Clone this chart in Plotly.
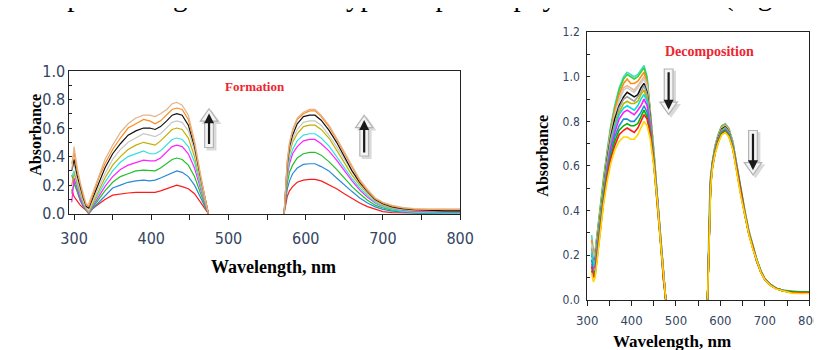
import plotly.graph_objects as go

W, H = 822, 350

# ---------------- Formation panel (left) ----------------
F_WL_UV = [297, 300, 304, 308, 312, 316, 319, 325, 332, 340, 350, 360, 370, 380, 390,
           398, 405, 412, 420, 427, 433, 440, 448, 456, 464, 470, 474]
F_WL_VIS = [572, 574, 576, 579, 583, 589, 597, 605, 612, 620, 630, 640, 650, 660, 670,
            680, 690, 700, 712, 725, 740, 760, 780, 800]

F_NAMES = ["red", "blue", "green", "magenta", "cyan", "olive", "gray", "black", "orange", "tan"]
F_COLORS = ["#ff1a1a", "#2a8ad4", "#22c02a", "#ff22ff", "#33e0e0", "#c0b000",
            "#c8c8c8", "#111111", "#ff8a1a", "#e2b48c"]

F_UV = {
    "red":     [.17, .12, .09, .06, .04, .02, .01, .04, .07, .10, .13, .14, .145, .15, .15, .145, .15, .16, .175, .19, .20, .19, .175, .14, .08, .03, 0.0],
    "blue":    [.27, .22, .15, .09, .05, .02, 0.0, .04, .08, .13, .18, .20, .22, .23, .235, .23, .235, .25, .27, .29, .30, .29, .26, .20, .11, .04, 0.0],
    "green":   [.14, .21, .16, .10, .06, .02, 0.0, .05, .10, .16, .22, .26, .28, .30, .305, .30, .30, .32, .35, .38, .39, .38, .34, .26, .14, .05, 0.0],
    "magenta": [.08, .25, .18, .11, .06, .02, 0.0, .06, .12, .19, .26, .31, .34, .36, .375, .37, .37, .39, .43, .47, .48, .47, .42, .32, .17, .06, 0.0],
    "cyan":    [.26, .30, .20, .13, .07, .03, .01, .07, .14, .22, .30, .36, .40, .42, .44, .42, .42, .44, .48, .52, .53, .52, .47, .36, .19, .07, 0.0],
    "olive":   [.20, .28, .22, .14, .08, .03, .01, .08, .16, .25, .34, .40, .45, .48, .50, .49, .48, .51, .55, .59, .60, .59, .53, .40, .21, .08, 0.0],
    "gray":    [.30, .35, .24, .16, .09, .04, .02, .10, .19, .28, .38, .45, .50, .53, .56, .55, .54, .56, .60, .64, .65, .64, .58, .44, .23, .08, 0.0],
    "black":   [.30, .38, .27, .18, .11, .05, .04, .12, .22, .32, .42, .49, .55, .58, .60, .60, .59, .61, .65, .69, .70, .69, .62, .47, .25, .09, 0.0],
    "orange":  [.35, .43, .30, .20, .12, .06, .05, .14, .25, .35, .45, .53, .60, .63, .66, .65, .63, .65, .69, .73, .74, .73, .66, .49, .26, .09, 0.0],
    "tan":     [.30, .47, .33, .22, .14, .06, .07, .16, .27, .38, .48, .57, .63, .67, .69, .69, .68, .70, .73, .77, .78, .76, .69, .51, .27, .09, 0.0],
}
F_VIS = {
    "red":     [0, .06, .12, .16, .19, .22, .235, .24, .24, .23, .205, .175, .14, .105, .075, .05, .03, .015, .008, .005, .004, .003, .003, .003],
    "blue":    [0, .09, .17, .23, .28, .32, .345, .35, .35, .33, .30, .25, .20, .155, .11, .075, .048, .03, .018, .01, .006, .003, .002, .002],
    "green":   [0, .11, .21, .29, .34, .39, .42, .43, .43, .41, .365, .31, .25, .19, .14, .095, .06, .04, .025, .018, .013, .01, .01, .01],
    "magenta": [0, .13, .26, .35, .42, .47, .51, .52, .52, .49, .44, .375, .30, .23, .165, .115, .075, .05, .033, .022, .016, .013, .013, .013],
    "cyan":    [0, .14, .28, .38, .45, .51, .55, .56, .56, .53, .475, .40, .325, .245, .18, .125, .08, .05, .03, .018, .01, .005, .003, .003],
    "olive":   [0, .15, .31, .42, .50, .56, .61, .62, .62, .59, .53, .445, .36, .27, .20, .14, .09, .06, .04, .03, .022, .02, .02, .02],
    "gray":    [0, .16, .32, .44, .52, .59, .64, .65, .65, .62, .55, .47, .38, .29, .21, .145, .095, .065, .045, .033, .027, .025, .025, .025],
    "black":   [0, .17, .34, .47, .55, .63, .68, .69, .69, .655, .585, .50, .40, .30, .22, .155, .10, .07, .048, .035, .028, .022, .02, .02],
    "orange":  [0, .18, .36, .49, .58, .66, .70, .72, .72, .68, .61, .52, .42, .32, .23, .16, .105, .075, .052, .04, .032, .03, .03, .03],
    "tan":     [0, .18, .37, .50, .59, .67, .71, .73, .73, .69, .62, .53, .43, .33, .24, .17, .11, .08, .058, .045, .035, .032, .032, .032],
}

# ---------------- Decomposition panel (right) ----------------
D_WL_UV = [310, 314, 318, 324, 330, 337, 345, 353, 362, 372, 382, 390, 398, 406, 414,
           421, 428, 435, 442, 450, 458, 466, 472, 477]
D_WL_VIS = [571, 573, 575, 578, 582, 588, 595, 603, 611, 619, 628, 637, 646, 655, 664,
            673, 682, 691, 700, 712, 726, 742, 760, 780, 800]

D_NAMES = ["turquoise", "lime", "orange", "tan", "silver", "black", "gray", "olive",
           "cyan", "magenta", "blue", "green", "red", "yellow"]
D_COLORS = ["#48d8cc", "#33d633", "#ff8c1a", "#e6b88e", "#cfcfcf", "#111111", "#9e9e9e",
            "#b8b800", "#00dede", "#ff1aff", "#1f8fd0", "#00b400", "#ff1a1a", "#ffd700"]

D_UV = {
    "turquoise": [.29, .22, .22, .32, .43, .55, .67, .78, .87, .95, 1.00, 1.02, 1.01, 1.00, 1.01, 1.03, 1.05, 1.00, .86, .67, .46, .25, .10, 0],
    "lime":      [.24, .21, .21, .32, .43, .55, .66, .77, .86, .94, .99, 1.01, 1.00, .99, 1.00, 1.02, 1.04, .99, .85, .67, .46, .25, .10, 0],
    "orange":    [.27, .20, .21, .31, .42, .54, .65, .76, .85, .92, .97, .99, .97, .97, .98, 1.00, 1.02, .97, .84, .66, .46, .25, .10, 0],
    "tan":       [.22, .19, .20, .30, .41, .53, .64, .75, .83, .90, .95, .96, .95, .94, .96, .98, 1.00, .96, .83, .66, .46, .25, .10, 0],
    "silver":    [.25, .19, .19, .29, .40, .52, .64, .74, .82, .89, .94, .95, .94, .93, .95, .97, .99, .95, .83, .65, .45, .25, .10, 0],
    "black":     [.20, .18, .18, .28, .40, .51, .63, .73, .81, .87, .91, .93, .92, .91, .92, .95, .97, .93, .82, .65, .45, .25, .10, 0],
    "gray":      [.23, .17, .17, .27, .39, .50, .62, .72, .79, .86, .90, .91, .90, .89, .91, .93, .96, .92, .81, .64, .45, .25, .10, 0],
    "olive":     [.18, .16, .17, .27, .38, .50, .61, .70, .78, .84, .88, .89, .88, .88, .89, .92, .94, .90, .80, .64, .45, .25, .10, 0],
    "cyan":      [.21, .15, .16, .26, .37, .49, .60, .69, .77, .83, .86, .87, .86, .85, .87, .90, .92, .89, .79, .63, .45, .25, .10, 0],
    "magenta":   [.16, .14, .15, .25, .36, .48, .59, .68, .75, .81, .84, .85, .84, .83, .85, .87, .90, .87, .78, .63, .45, .25, .09, 0],
    "blue":      [.18, .12, .13, .23, .35, .46, .57, .66, .73, .78, .81, .81, .80, .80, .82, .84, .87, .84, .76, .62, .45, .24, .09, 0],
    "green":     [.13, .11, .12, .22, .34, .45, .56, .64, .71, .76, .78, .79, .78, .78, .79, .82, .85, .82, .75, .61, .44, .24, .09, 0],
    "red":       [.15, .10, .11, .21, .33, .44, .55, .63, .69, .74, .76, .77, .76, .75, .77, .80, .83, .81, .74, .61, .44, .24, .09, 0],
    "yellow":    [.12, .08, .10, .20, .32, .43, .53, .61, .67, .71, .73, .73, .72, .72, .74, .77, .80, .78, .72, .60, .44, .24, .09, 0],
}
D_VIS = {
    "turquoise": [0, .20, .42, .55, .62, .69, .74, .78, .79, .77, .71, .60, .49, .40, .31, .24, .18, .13, .095, .07, .052, .042, .037, .035, .035],
    "lime":      [0, .19, .41, .55, .62, .69, .74, .78, .785, .765, .705, .60, .49, .40, .31, .24, .18, .13, .095, .07, .052, .042, .038, .036, .036],
    "orange":    [0, .19, .41, .54, .615, .685, .735, .775, .785, .765, .705, .595, .485, .395, .31, .24, .18, .13, .095, .07, .05, .04, .035, .033, .033],
    "tan":       [0, .18, .40, .54, .61, .68, .73, .77, .78, .76, .70, .595, .485, .395, .305, .235, .175, .128, .094, .07, .051, .041, .036, .035, .035],
    "silver":    [0, .18, .40, .54, .61, .68, .73, .77, .778, .758, .70, .59, .48, .39, .305, .235, .175, .128, .094, .069, .05, .04, .035, .034, .034],
    "black":     [0, .17, .39, .53, .61, .675, .725, .765, .775, .755, .695, .59, .48, .39, .30, .235, .175, .127, .093, .069, .05, .041, .036, .034, .034],
    "gray":      [0, .17, .39, .53, .605, .675, .72, .76, .772, .752, .695, .585, .48, .39, .30, .234, .175, .127, .093, .068, .05, .04, .035, .033, .033],
    "olive":     [0, .16, .38, .53, .60, .67, .72, .76, .769, .75, .69, .585, .475, .39, .30, .233, .175, .126, .092, .068, .05, .04, .034, .032, .032],
    "cyan":      [0, .16, .38, .52, .60, .67, .715, .755, .766, .747, .69, .58, .475, .385, .30, .232, .174, .126, .092, .068, .05, .041, .037, .036, .036],
    "magenta":   [0, .15, .37, .52, .60, .665, .715, .753, .763, .744, .685, .58, .473, .385, .30, .232, .174, .126, .092, .067, .05, .04, .035, .034, .034],
    "blue":      [0, .15, .37, .52, .595, .665, .71, .75, .76, .74, .683, .577, .47, .385, .298, .231, .173, .125, .091, .067, .05, .04, .034, .032, .032],
    "green":     [0, .14, .36, .51, .594, .66, .71, .747, .757, .737, .68, .575, .47, .383, .297, .23, .172, .125, .091, .067, .05, .04, .036, .035, .035],
    "red":       [0, .14, .36, .51, .59, .657, .705, .742, .752, .733, .676, .571, .466, .38, .295, .228, .171, .124, .09, .066, .049, .039, .033, .031, .031],
    "yellow":    [0, .13, .35, .50, .59, .655, .702, .74, .75, .73, .674, .569, .465, .38, .294, .228, .17, .123, .09, .066, .048, .038, .03, .028, .028],
}

X_TICKS = [300, 350, 400, 450, 500, 550, 600, 650, 700, 750, 800]
X_TICKTEXT = ["300", "", "400", "", "500", "", "600", "", "700", "", "800"]
Y1_TICKS = [0.0, 0.1, 0.2, 0.3, 0.4, 0.5, 0.6, 0.7, 0.8, 0.9, 1.0]
Y1_TICKTEXT = ["0.0", "", "0.2", "", "0.4", "", "0.6", "", "0.8", "", "1.0"]
Y2_TICKS = [0.0, 0.1, 0.2, 0.3, 0.4, 0.5, 0.6, 0.7, 0.8, 0.9, 1.0, 1.1, 1.2]
Y2_TICKTEXT = ["0.0", "", "0.2", "", "0.4", "", "0.6", "", "0.8", "", "1.0", "", "1.2"]


def px(x):
    return x / W


def py(y):
    return 1 - y / H


fig = go.Figure()

for name, col in zip(F_NAMES, F_COLORS):
    fig.add_trace(go.Scatter(
        x=F_WL_UV + [None] + F_WL_VIS,
        y=F_UV[name] + [None] + F_VIS[name],
        mode="lines", line=dict(color=col, width=1.2),
        xaxis="x", yaxis="y", name=name, connectgaps=False))

for name, col in zip(D_NAMES, D_COLORS):
    fig.add_trace(go.Scatter(
        x=D_WL_UV + [None] + D_WL_VIS,
        y=D_UV[name] + [None] + D_VIS[name],
        mode="lines", line=dict(color=col, width=1.6),
        xaxis="x2", yaxis="y2", name=name, connectgaps=False))

TICKFONT = "Liberation Sans Narrow, DejaVu Sans Condensed, Arial Narrow, sans-serif"
TICKCOL = "#34455f"
LINECOL = "#222222"

common = dict(showline=True, linecolor=LINECOL, linewidth=1, mirror=True,
              showgrid=False, zeroline=False, tickcolor=LINECOL, tickwidth=1)

fig.update_layout(
    width=W, height=H, margin=dict(l=0, r=0, t=0, b=0),
    paper_bgcolor="white", plot_bgcolor="white",
    showlegend=False, hovermode=False,
    xaxis=dict(domain=[px(52), px(455)], range=[294, 800], anchor="y",
               tickmode="array", tickvals=X_TICKS, ticktext=X_TICKTEXT,
               ticks="outside", ticklen=5, ticklabelstandoff=5,
               tickfont=dict(family=TICKFONT, size=16, color=TICKCOL), **common),
    yaxis=dict(domain=[py(208), py(57)], range=[0, 1.0], anchor="x",
               tickmode="array", tickvals=Y1_TICKS, ticktext=Y1_TICKTEXT,
               ticks="inside", ticklen=3,
               tickfont=dict(family=TICKFONT, size=16, color=TICKCOL), **common),
    xaxis2=dict(domain=[px(586), px(815)], range=[300, 800], anchor="y2",
                tickmode="array", tickvals=X_TICKS, ticktext=X_TICKTEXT,
                ticks="outside", ticklen=5, ticklabelstandoff=4,
                tickfont=dict(family=TICKFONT, size=13, color=TICKCOL), **common),
    yaxis2=dict(domain=[py(299), py(16)], range=[0, 1.2], anchor="x2",
                tickmode="array", tickvals=Y2_TICKS, ticktext=Y2_TICKTEXT,
                ticks="inside", ticklen=3, ticklabelstandoff=4,
                tickfont=dict(family=TICKFONT, size=12, color=TICKCOL), **common),
)

SERIF = "Liberation Serif, Times New Roman, serif"
annots = []


def label(text, x, y, size, color="black", angle=0, bold=True, family=SERIF,
          xanchor="center", yanchor="middle"):
    annots.append(dict(text=("<b>%s</b>" % text) if bold else text,
                       x=px(x), y=py(y), xref="paper", yref="paper",
                       showarrow=False, textangle=angle, xanchor=xanchor, yanchor=yanchor,
                       font=dict(family=family, size=size, color=color)))


label("Absorbance", 17, 124, 16, angle=-90)
label("Wavelength, nm", 262, 264, 18)
label("Formation", 243, 73, 13, color="#ee2430")
label("Absorbance", 539, 147, 16, angle=-90)
label("Wavelength, nm", 673, 343, 17)
label("Decomposition", 712, 37, 14, color="#ee2430")

# cropped line of body text at the very top of the page (only descenders visible)
for txt, x0 in [("spectra", 36), ("given in the", 157), ("typical spectra physical", 327), ("(Fig", 725)]:
    label(txt, x0, -3, 29, bold=False, xanchor="left", yanchor="bottom")

shapes = []


def block_arrow(cx, tail, tip):
    d = 1 if tip > tail else -1  # +1 pointing down
    hw, sw, hl = 9, 4.5, 13
    pts = [(cx, tip), (cx + hw, tip - d * hl), (cx + sw, tip - d * hl), (cx + sw, tail),
           (cx - sw, tail), (cx - sw, tip - d * hl), (cx - hw, tip - d * hl)]
    for off, fill, lc in [(2.5, "#d9d9d9", "#d9d9d9"), (0, "#f4f4f4", "#b4b4b4")]:
        path = "M " + " L ".join("%.5f,%.5f" % (px(x + off), py(y + off)) for x, y in pts) + " Z"
        shapes.append(dict(type="path", path=path, xref="paper", yref="paper",
                           fillcolor=fill, line=dict(color=lc, width=1.2), layer="above"))
    # dark stem inside
    stem_tip = tip - d * 5
    stem_tail = tail + d * 4
    annots.append(dict(x=px(cx), y=py(stem_tip), xref="paper", yref="paper", text="",
                       showarrow=True, ax=0, ay=(stem_tail - stem_tip),
                       arrowhead=2, arrowsize=0.9, arrowwidth=2.2, arrowcolor="#1a1a1a"))


block_arrow(196, 138, 97)
block_arrow(356, 147, 104)
block_arrow(670, 55, 103)
block_arrow(757, 120, 167)

fig.update_layout(annotations=annots, shapes=shapes)

fig.write_html("out.html")
